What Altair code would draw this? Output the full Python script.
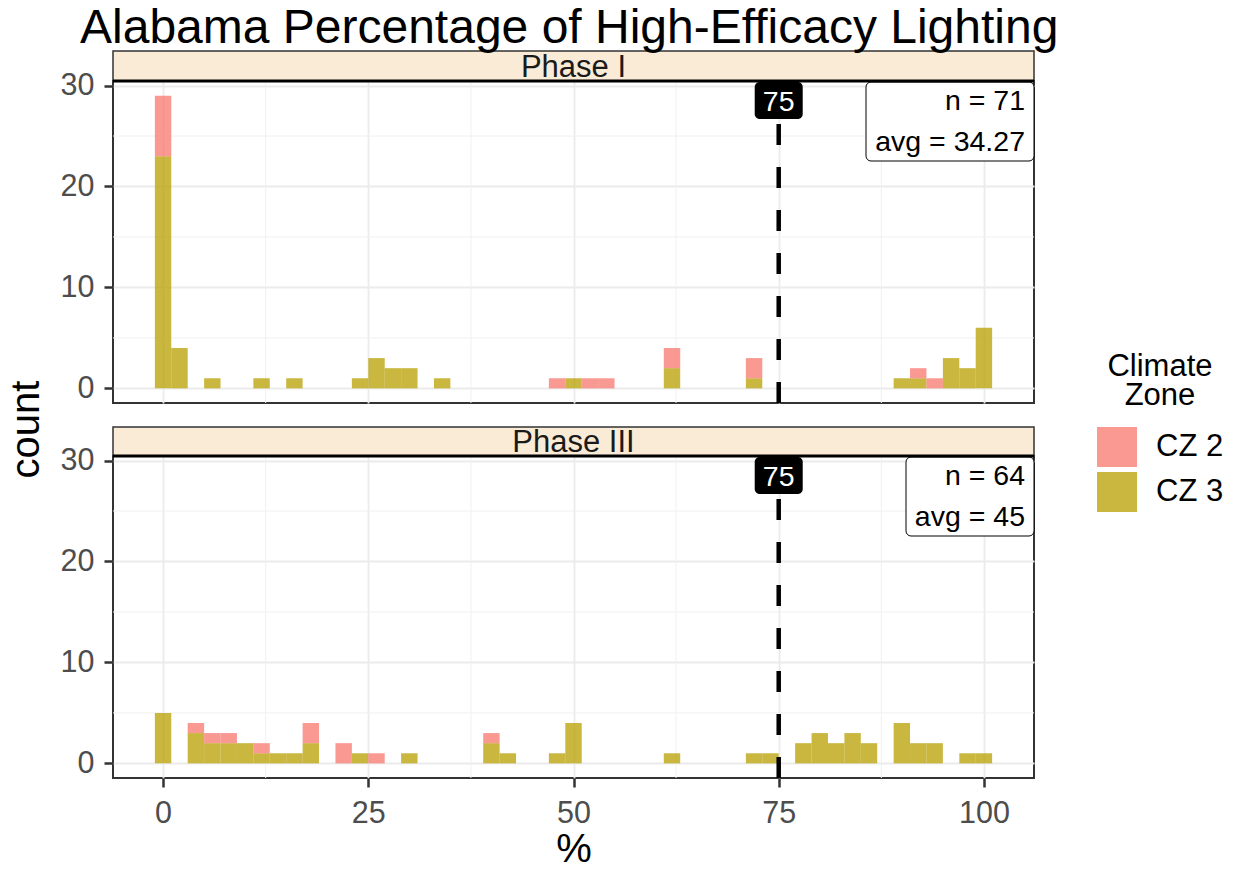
import altair as alt
import pandas as pd

# ---------------- data ----------------
zones = ["CZ 2", "CZ 3"]
zone_colors = ["#F8766D", "#B79F00"]
bin_width = 2

# Phase I histogram (bin centres, counts per climate zone)
p1_bins = [0, 2, 6, 12, 16, 24, 26, 28, 30, 34, 48, 50, 52, 54, 62, 72, 90, 92, 94, 96, 98, 100]
p1_cz2 = [6, 0, 0, 0, 0, 0, 0, 0, 0, 0, 1, 0, 1, 1, 2, 2, 0, 1, 1, 0, 0, 0]
p1_cz3 = [23, 4, 1, 1, 1, 1, 3, 2, 2, 1, 0, 1, 0, 0, 2, 1, 1, 1, 0, 3, 2, 6]

# Phase III histogram
p3_bins = [0, 4, 6, 8, 10, 12, 14, 16, 18, 22, 24, 26, 30, 40, 42, 48, 50, 62, 72, 74, 78, 80, 82, 84, 86, 90, 92, 94, 98, 100]
p3_cz2 = [0, 1, 1, 1, 0, 1, 0, 0, 2, 2, 0, 1, 0, 1, 0, 0, 0, 0, 0, 0, 0, 0, 0, 0, 0, 0, 0, 0, 0, 0]
p3_cz3 = [5, 3, 2, 2, 2, 1, 1, 1, 2, 0, 1, 0, 1, 2, 1, 1, 4, 1, 1, 1, 2, 3, 2, 3, 2, 4, 2, 2, 1, 1]

phases = ["Phase I", "Phase III"]
stat_n = ["n = 71", "n = 64"]
stat_avg = ["avg = 34.27", "avg = 45"]
target = 75

x_ticks = [0, 25, 50, 75, 100]
x_minor = [12.5, 37.5, 62.5, 87.5]
y_ticks = [0, 10, 20, 30]
y_minor = [5, 15, 25]

# ---------------- layout / style ----------------
W, H = 921, 322
FONT = "Liberation Sans"
xscale = alt.Scale(domain=[-6.1, 106.1], nice=False, zero=False)
yscale = alt.Scale(domain=[-1.45, 30.45], nice=False, zero=False)
color_scale = alt.Scale(domain=zones, range=zone_colors)


def hist_frame(bins, cz2, cz3):
    rows = []
    for c, a, b in zip(bins, cz2, cz3):
        if b > 0:
            rows.append(dict(zone="CZ 3", x0=c - bin_width / 2, x1=c + bin_width / 2, y0=0, y1=b))
        if a > 0:
            rows.append(dict(zone="CZ 2", x0=c - bin_width / 2, x1=c + bin_width / 2, y0=b, y1=b + a))
    return pd.DataFrame(rows)


def panel(idx, bins, cz2, cz3, bottom, box_w, strip_h):
    df = hist_frame(bins, cz2, cz3)
    one = pd.DataFrame({"x": [target], "label": [str(target)]})

    if bottom:
        xaxis = alt.Axis(values=x_ticks, grid=True, gridColor="#EBEBEB", gridWidth=1.8,
                         tickSize=9, tickWidth=2.5, tickColor="#333333", domain=False,
                         labelFontSize=30.5, labelColor="#4D4D4D", labelPadding=11,
                         labelFont=FONT, title="%", titleFontSize=40, titleFont=FONT,
                         titleFontWeight="normal", titleColor="black", titlePadding=1)
    else:
        xaxis = alt.Axis(values=x_ticks, grid=True, gridColor="#EBEBEB", gridWidth=1.8,
                         labels=False, ticks=False, domain=False, title=None)
    yaxis_kw = dict(values=y_ticks, grid=True, gridColor="#EBEBEB", gridWidth=1.8,
                    tickSize=9, tickWidth=2.5, tickColor="#333333", domain=False,
                    labelFontSize=30.5, labelColor="#4D4D4D", labelPadding=10, labelFont=FONT)
    if not bottom:
        yaxis = alt.Axis(title="count", titleFontSize=40, titleFont=FONT, titleFontWeight="normal",
                         titleColor="black", titleX=-67, titleY=348, titleAngle=270,
                         titleBaseline="bottom", titleAlign="center", **yaxis_kw)
    else:
        yaxis = alt.Axis(title=None, **yaxis_kw)

    minor_x = alt.Chart(pd.DataFrame({"v": x_minor})).mark_rule(color="#F0F0F0", strokeWidth=1).encode(
        x=alt.X("v:Q", scale=xscale, axis=xaxis))
    minor_y = alt.Chart(pd.DataFrame({"v": y_minor})).mark_rule(color="#F0F0F0", strokeWidth=1).encode(
        y=alt.Y("v:Q", scale=yscale, axis=yaxis))

    bars = alt.Chart(df).mark_rect(opacity=0.75, strokeWidth=0).encode(
        x=alt.X("x0:Q", scale=xscale, axis=xaxis),
        x2="x1:Q",
        y=alt.Y("y0:Q", scale=yscale, axis=yaxis),
        y2="y1:Q",
        color=alt.Color("zone:N", scale=color_scale, legend=alt.Legend(
            title=["Climate", "Zone"], orient="none", legendX=984, legendY=271,
            titleFontSize=31, titleFont=FONT, titleFontWeight="normal", titleColor="black",
            titleAnchor="middle", titleAlign="center", titleLineHeight=29, titlePadding=15,
            labelFontSize=31, labelFont=FONT, labelColor="black", symbolType="square",
            symbolSize=1600, symbolStrokeWidth=0, symbolOpacity=0.75, rowPadding=5,
            labelOffset=19, padding=0)),
    )

    vline = alt.Chart(one).mark_rule(color="black", strokeWidth=4.5, strokeDash=[21, 22]).encode(
        x=alt.X("x:Q", scale=xscale, axis=xaxis), y=alt.value(H), y2=alt.value(0))
    lab_box = alt.Chart(one).mark_rect(color="black", cornerRadius=5, xOffset=-24, x2Offset=24).encode(
        x=alt.X("x:Q", scale=xscale, axis=xaxis), x2="x:Q", y=alt.value(1), y2=alt.value(38))
    lab_txt = alt.Chart(one).mark_text(color="white", fontSize=28.5, font=FONT, baseline="middle").encode(
        x=alt.X("x:Q", scale=xscale, axis=xaxis), y=alt.value(21), text="label:N")

    info = pd.DataFrame({"n": [stat_n[idx]], "avg": [stat_avg[idx]], "phase": [phases[idx]]})
    st_box = alt.Chart(info).mark_rect(fill="white", stroke="black", strokeWidth=1, cornerRadius=5).encode(
        x=alt.value(W - box_w), x2=alt.value(W), y=alt.value(1), y2=alt.value(80))
    st_n = alt.Chart(info).mark_text(fontSize=28.5, font=FONT, color="black", align="right",
                                     baseline="alphabetic").encode(
        x=alt.value(W - 9), y=alt.value(29), text="n:N")
    st_avg = alt.Chart(info).mark_text(fontSize=28.5, font=FONT, color="black", align="right",
                                       baseline="alphabetic").encode(
        x=alt.value(W - 9), y=alt.value(70), text="avg:N")

    strip = alt.Chart(info).mark_rect(fill="#FAEBD7", stroke="#333333", strokeWidth=1.5).encode(
        x=alt.value(0), x2=alt.value(W), y=alt.value(-strip_h), y2=alt.value(0))
    strip_line = alt.Chart(info).mark_rule(color="black", strokeWidth=3).encode(
        x=alt.value(0), x2=alt.value(W), y=alt.value(0))
    strip_txt = alt.Chart(info).mark_text(fontSize=31, font=FONT, color="#1A1A1A",
                                          baseline="alphabetic").encode(
        x=alt.value(W / 2), y=alt.value(-4), text="phase:N")

    return alt.layer(minor_x, minor_y, bars, vline, lab_box, lab_txt, st_box, st_n, st_avg,
                     strip, strip_line, strip_txt).properties(width=W, height=H)


top = panel(0, p1_bins, p1_cz2, p1_cz3, False, 168, 30)
bot = panel(1, p3_bins, p3_cz2, p3_cz3, True, 128, 29)

chart = alt.vconcat(top, bot, spacing=53, bounds="flush").resolve_scale(color="shared").properties(
    title=alt.TitleParams("Alabama Percentage of High-Efficacy Lighting", anchor="start", frame="group",
                          fontSize=48, font=FONT, fontWeight="normal", color="black", dx=-33, offset=-4),
    padding={"left": 5, "top": 5, "right": 5, "bottom": 5},
).configure(font=FONT, background="white").configure_view(stroke="#333333", strokeWidth=2)

chart.save("out.html", embed_options={"renderer": "svg", "actions": False})
